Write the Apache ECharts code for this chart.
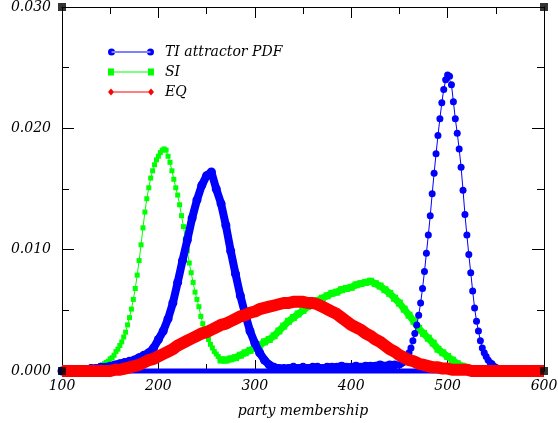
<!DOCTYPE html>
<html>
<head>
<meta charset="utf-8">
<script src="https://cdn.jsdelivr.net/npm/echarts@6/dist/echarts.min.js"></script>
<style>
html,body{margin:0;padding:0;background:#fff;}
#chart{width:558px;height:423px;}
</style>
</head>
<body>
<div id="chart"></div>
<script>
// ---- data ----
const xTicks = [100, 200, 300, 400, 500, 600];
const yTicks = [0.000, 0.010, 0.020, 0.030];
const seriesNames = ['TI attractor PDF', 'SI', 'EQ'];

// TI attractor PDF: low-x part, x = 100..445 step 5
const tiLowStart = 100, tiLowStep = 5;
const tiLowY = [
  0, 0, 0, 0, 0.0001, 0.0001, 0.0002, 0.0002, 0.0003, 0.0003,
  0.0004, 0.0005, 0.0006, 0.0007, 0.0008, 0.0009, 0.0011, 0.0013, 0.0015, 0.0019,
  0.0026, 0.0033, 0.0043, 0.0056, 0.0073, 0.0091, 0.0108, 0.0126, 0.0141, 0.0153,
  0.0161, 0.0164, 0.0150, 0.0138, 0.0120, 0.0099, 0.0080, 0.0062, 0.0047, 0.0033,
  0.0023, 0.0015, 0.0009, 0.0005, 0.0003, 0.0002, 0.0002, 0.0002, 0.0003, 0.0002,
  0.0003, 0.0002, 0.0003, 0.0003, 0.0002, 0.0003, 0.0003, 0.0003, 0.0004, 0.0003,
  0.0003, 0.0004, 0.0003, 0.0004, 0.0004, 0.0004, 0.0005, 0.0004, 0.0005, 0.0005
];
// TI attractor PDF: high-x peak, x = 446..560 step 2
const tiHighStart = 446, tiHighStep = 2;
const tiHighY = [
  0.0005, 0.0005, 0.0005, 0.0006, 0.0007, 0.0009, 0.0012, 0.0015, 0.0019, 0.0025,
  0.0031, 0.0038, 0.0046, 0.0056, 0.0068, 0.0082, 0.0097, 0.0112, 0.0128, 0.0146,
  0.0163, 0.0179, 0.0194, 0.0208, 0.0221, 0.0232, 0.0240, 0.0244, 0.0243, 0.0236,
  0.0222, 0.0208, 0.0196, 0.0183, 0.0168, 0.0149, 0.0129, 0.0112, 0.0096, 0.0081,
  0.0066, 0.0052, 0.0041, 0.0033, 0.0025, 0.0019, 0.0015, 0.0012, 0.0009, 0.0007,
  0.0006, 0.0004, 0.0003, 0.0002, 0.0002, 0.0001, 0.0001, 0
];
// SI: first peak, x = 130..266 step 2
const siLowStart = 130, siLowStep = 2;
const siLowY = [
  0.0001, 0.0001, 0.0002, 0.0002, 0.0003, 0.0004, 0.0005, 0.0006, 0.0007, 0.0008,
  0.0010, 0.0011, 0.0013, 0.0016, 0.0018, 0.0021, 0.0024, 0.0028, 0.0032, 0.0038,
  0.0044, 0.0051, 0.0059, 0.0068, 0.0079, 0.0091, 0.0104, 0.0118, 0.0131, 0.0142,
  0.0151, 0.0159, 0.0165, 0.0170, 0.0174, 0.0177, 0.0180, 0.0182, 0.0183, 0.0182,
  0.0177, 0.0172, 0.0165, 0.0158, 0.0151, 0.0145, 0.0137, 0.0128, 0.0119, 0.0109,
  0.0099, 0.0089, 0.0081, 0.0073, 0.0065, 0.0059, 0.0053, 0.0045, 0.0039, 0.0035,
  0.0030, 0.0026, 0.0022, 0.0019, 0.0016, 0.0014, 0.0012, 0.0010, 0.0009
];
// SI: second hump, x = 265..540 step 5
const siHighStart = 265, siHighStep = 5;
const siHighY = [
  0.0009, 0.0009, 0.0010, 0.0011, 0.0013, 0.0015, 0.0017, 0.0019, 0.0021, 0.0024,
  0.0026, 0.0029, 0.0033, 0.0037, 0.0041, 0.0044, 0.0047, 0.0050, 0.0053, 0.0055,
  0.0058, 0.0060, 0.0062, 0.0064, 0.0065, 0.0067, 0.0068, 0.0069, 0.0071, 0.0072,
  0.0073, 0.0074, 0.0072, 0.0070, 0.0067, 0.0064, 0.0060, 0.0056, 0.0051, 0.0046,
  0.0041, 0.0035, 0.0031, 0.0027, 0.0023, 0.0018, 0.0015, 0.0012, 0.0009, 0.0006,
  0.0004, 0.0003, 0.0002, 0.0001, 0.0001, 0
];
// EQ: x = 100..600 step 5
const eqStart = 100, eqStep = 5;
const eqY = [
  0, 0, 0, 0, 0, 0, 0, 0, 0, 0,
  0, 0.0001, 0.0001, 0.0002, 0.0003, 0.0004, 0.0005, 0.0007, 0.0009, 0.0010,
  0.0012, 0.0014, 0.0016, 0.0018, 0.0021, 0.0023, 0.0025, 0.0027, 0.0029, 0.0031,
  0.0032, 0.0034, 0.0036, 0.0038, 0.0039, 0.0041, 0.0043, 0.0045, 0.0046, 0.0048,
  0.0049, 0.0051, 0.0052, 0.0053, 0.0054, 0.0055, 0.0056, 0.0056, 0.0057, 0.0057,
  0.0057, 0.0056, 0.0056, 0.0055, 0.0053, 0.0051, 0.0049, 0.0047, 0.0044, 0.0041,
  0.0038, 0.0036, 0.0034, 0.0031, 0.0029, 0.0026, 0.0024, 0.0021, 0.0018, 0.0016,
  0.0013, 0.0011, 0.0009, 0.0008, 0.0006, 0.0005, 0.0004, 0.0003, 0.0003, 0.0002,
  0.0002, 0.0001, 0.0001, 0.0001, 0.0001, 0, 0, 0, 0, 0,
  0, 0, 0, 0, 0, 0, 0, 0, 0, 0,
  0
];
// zero-valued stretches
const tiZeroX = [100, 600];
const eqZeroLeftX = [100, 155];
const eqZeroRightX = [525, 600];
// frame corner markers (data coordinates)
const cornerX = [100, 600, 100, 600];
const cornerY = [0, 0, 0.03, 0.03];

// ---- helpers ----
function pairs(start, step, ys) { return ys.map((y, i) => [start + i * step, y]); }
function zeros(xs) { return xs.map(x => [x, 0]); }

const BLUE = '#0000ff', GREEN = '#00ff00', RED = '#ff0000';
const FONT = 'DejaVu Serif';

const chart = echarts.init(document.getElementById('chart'), null, {renderer: 'canvas'});

const axisCommon = {
  min: 100, max: 600, interval: 100,
  axisLine: {show: true, onZero: false, lineStyle: {color: '#000', width: 1}},
  axisTick: {show: true, inside: true, length: 11, lineStyle: {color: '#000'}},
  minorTick: {show: true, splitNumber: 2, length: 7, lineStyle: {color: '#000'}},
  splitLine: {show: false}
};
const yCommon = {
  type: 'value', min: 0, max: 0.03, interval: 0.01,
  axisLine: {show: true, onZero: false, lineStyle: {color: '#000', width: 1}},
  axisTick: {show: true, inside: true, length: 12, lineStyle: {color: '#000'}},
  minorTick: {show: true, splitNumber: 2, length: 7, lineStyle: {color: '#000'}},
  splitLine: {show: false}
};

const iconTI = 'path://M0,3.5a3.5,3.5 0 1,0 7,0a3.5,3.5 0 1,0 -7,0zM3.5,3h39v1h-39zM39,3.5a3.5,3.5 0 1,0 7,0a3.5,3.5 0 1,0 -7,0z';
const iconSI = 'path://M0,0.5h6v6h-6zM3,3h40v1h-40zM40,0.5h6v6h-6z';
const iconEQ = 'path://M0,3.5l3,-3.5l3,3.5l-3,3.5zM3,3h40v1h-40zM40,3.5l3,-3.5l3,3.5l-3,3.5z';

const option = {
  animation: false,
  backgroundColor: '#fff',
  grid: {left: 62, right: 14, top: 7, bottom: 52, containLabel: false, outerBoundsMode: 'none'},
  legend: {
    orient: 'vertical', left: 108, top: 45, padding: 0,
    itemWidth: 46, itemHeight: 7, itemGap: 6,
    symbolKeepAspect: false,
    selectedMode: false,
    textStyle: {fontFamily: FONT, fontStyle: 'italic', fontSize: 14, color: '#000', lineHeight: 14, padding: [0, 0, 0, 6]},
    data: [
      {name: seriesNames[0], icon: iconTI, itemStyle: {color: BLUE}},
      {name: seriesNames[1], icon: iconSI, itemStyle: {color: GREEN}},
      {name: seriesNames[2], icon: iconEQ, itemStyle: {color: RED}}
    ]
  },
  xAxis: [
    Object.assign({type: 'value', position: 'bottom',
      name: 'party membership', nameLocation: 'middle', nameGap: 33,
      nameTextStyle: {fontFamily: FONT, fontStyle: 'italic', fontSize: 14, color: '#000'},
      axisLabel: {show: true, margin: 8, fontFamily: FONT, fontStyle: 'italic', fontSize: 14, color: '#000',
        customValues: xTicks}
    }, axisCommon),
    Object.assign({type: 'value', position: 'top', axisLabel: {show: false}}, axisCommon)
  ],
  yAxis: [
    Object.assign({position: 'left',
      axisLabel: {show: true, margin: 11, fontFamily: FONT, fontStyle: 'italic', fontSize: 14, color: '#000',
        formatter: v => v.toFixed(3)}
    }, yCommon),
    Object.assign({position: 'right', axisLabel: {show: false}}, yCommon)
  ],
  series: [
    {name: seriesNames[1], type: 'line', data: pairs(siLowStart, siLowStep, siLowY),
      symbol: 'rect', symbolSize: 5, showAllSymbol: true, color: GREEN,
      lineStyle: {color: GREEN, width: 1}, itemStyle: {color: GREEN}, z: 2},
    {name: seriesNames[1], type: 'line', data: pairs(siHighStart, siHighStep, siHighY),
      symbol: 'rect', symbolSize: 7, showAllSymbol: true, color: GREEN,
      lineStyle: {color: GREEN, width: 7}, itemStyle: {color: GREEN}, z: 2},
    {name: seriesNames[0], type: 'line', data: zeros(tiZeroX), symbol: 'none', clip: false,
      color: BLUE, lineStyle: {color: BLUE, width: 5}, z: 3},
    {name: seriesNames[0], type: 'line', data: pairs(tiLowStart, tiLowStep, tiLowY),
      symbol: 'circle', symbolSize: 9, showAllSymbol: true, color: BLUE,
      lineStyle: {color: BLUE, width: 8}, itemStyle: {color: BLUE}, z: 3},
    {name: seriesNames[0], type: 'line', data: pairs(tiHighStart, tiHighStep, tiHighY),
      symbol: 'circle', symbolSize: 7, showAllSymbol: true, color: BLUE,
      lineStyle: {color: BLUE, width: 1}, itemStyle: {color: BLUE}, z: 3},
    {name: seriesNames[2], type: 'line', data: pairs(eqStart, eqStep, eqY),
      symbol: 'none', color: RED, lineStyle: {color: RED, width: 12, cap: 'butt', join: 'round'}, z: 4},
    {name: seriesNames[2], type: 'line', data: zeros(eqZeroLeftX), symbol: 'none', clip: false,
      color: RED, lineStyle: {color: RED, width: 4}, z: 4},
    {name: seriesNames[2], type: 'line', data: zeros(eqZeroRightX), symbol: 'none', clip: false,
      color: RED, lineStyle: {color: RED, width: 4}, z: 4},
    {name: 'corners', type: 'scatter', data: cornerX.map((x, i) => [x, cornerY[i]]),
      symbol: 'rect', symbolSize: 8, clip: false, itemStyle: {color: '#000'}, z: 10, silent: true}
  ]
};
chart.setOption(option);
</script>
</body>
</html>
